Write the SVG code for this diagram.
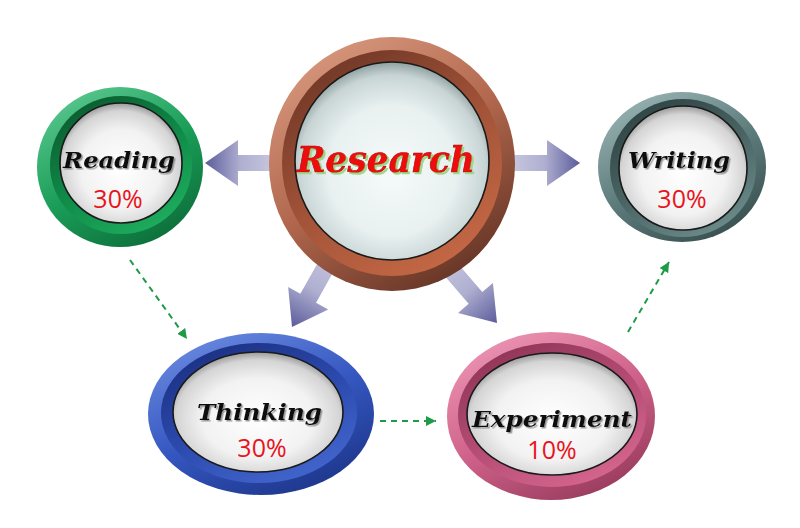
<svg xmlns="http://www.w3.org/2000/svg" width="800" height="528" viewBox="0 0 800 528">
<defs>
<style>
.lbl{font-family:"DejaVu Serif","Liberation Serif",serif;font-weight:bold;font-style:italic;fill:#111;text-anchor:middle;filter:url(#shGray);}
.pct{font-family:"Open Sans","Liberation Sans",sans-serif;font-size:25px;fill:#e8141c;text-anchor:middle;}
.disk{stroke:#1a1a1a;stroke-width:1.6;}
.dash{fill:none;stroke:#1e9a48;stroke-width:2;stroke-dasharray:6 5;}
.bigarrow{fill:url(#gArrow);}
</style>
<filter id="shGray" x="-10%" y="-30%" width="120%" height="160%">
<feDropShadow dx="1.5" dy="1.5" stdDeviation="0.6" flood-color="#808080" flood-opacity="0.8"/>
</filter>
<filter id="shGreen" x="-10%" y="-30%" width="120%" height="160%">
<feDropShadow dx="2" dy="2" stdDeviation="0.4" flood-color="#9cd888" flood-opacity="1"/>
</filter>
<linearGradient id="gArrow" x1="0" y1="0" x2="1" y2="0">
<stop offset="0" stop-color="#c8c8e0"/><stop offset="0.5" stop-color="#aeaed0"/><stop offset="1" stop-color="#5c5c9c"/>
</linearGradient>
<radialGradient id="gDisk" cx="0.5" cy="0.55" r="0.55">
<stop offset="0" stop-color="#ffffff"/><stop offset="0.6" stop-color="#f2f2f2"/><stop offset="0.88" stop-color="#d4d4d4"/><stop offset="1" stop-color="#9a9a9a"/>
</radialGradient>
<radialGradient id="gDiskR" cx="0.5" cy="0.55" r="0.55">
<stop offset="0" stop-color="#f6fafa"/><stop offset="0.6" stop-color="#e8f0f0"/><stop offset="0.88" stop-color="#c8d4d4"/><stop offset="1" stop-color="#8fa0a0"/>
</radialGradient>
<linearGradient id="gGreenO" x1="0.2" y1="0" x2="0.8" y2="1"><stop offset="0" stop-color="#5cc890"/><stop offset="0.5" stop-color="#1a9e58"/><stop offset="1" stop-color="#0c6a38"/></linearGradient>
<linearGradient id="gGreenI" x1="0.2" y1="0" x2="0.8" y2="1"><stop offset="0" stop-color="#0a5a2e"/><stop offset="0.5" stop-color="#108a48"/><stop offset="1" stop-color="#1fb060"/></linearGradient>
<linearGradient id="gBrownO" x1="0.2" y1="0" x2="0.8" y2="1"><stop offset="0" stop-color="#d99a80"/><stop offset="0.5" stop-color="#b0664c"/><stop offset="1" stop-color="#5e3022"/></linearGradient>
<linearGradient id="gBrownI" x1="0.2" y1="0" x2="0.8" y2="1"><stop offset="0" stop-color="#6e3626"/><stop offset="0.5" stop-color="#a25338"/><stop offset="1" stop-color="#c86a46"/></linearGradient>
<linearGradient id="gGrayO" x1="0.2" y1="0" x2="0.8" y2="1"><stop offset="0" stop-color="#9ab4b4"/><stop offset="0.5" stop-color="#5e7c7c"/><stop offset="1" stop-color="#364c4c"/></linearGradient>
<linearGradient id="gGrayI" x1="0.2" y1="0" x2="0.8" y2="1"><stop offset="0" stop-color="#2e4242"/><stop offset="0.5" stop-color="#4a6464"/><stop offset="1" stop-color="#6e8e8e"/></linearGradient>
<linearGradient id="gBlueO" x1="0.2" y1="0" x2="0.8" y2="1"><stop offset="0" stop-color="#6a8ae0"/><stop offset="0.5" stop-color="#3557c0"/><stop offset="1" stop-color="#1c3488"/></linearGradient>
<linearGradient id="gBlueI" x1="0.2" y1="0" x2="0.8" y2="1"><stop offset="0" stop-color="#1a3080"/><stop offset="0.5" stop-color="#2c4aae"/><stop offset="1" stop-color="#4468d0"/></linearGradient>
<linearGradient id="gPinkO" x1="0.2" y1="0" x2="0.8" y2="1"><stop offset="0" stop-color="#ec96b4"/><stop offset="0.5" stop-color="#d0628a"/><stop offset="1" stop-color="#94385a"/></linearGradient>
<linearGradient id="gPinkI" x1="0.2" y1="0" x2="0.8" y2="1"><stop offset="0" stop-color="#8e3456"/><stop offset="0.5" stop-color="#b44c74"/><stop offset="1" stop-color="#d86890"/></linearGradient>
<marker id="mGreen" markerUnits="userSpaceOnUse" markerWidth="11" markerHeight="10" refX="10" refY="5" orient="auto">
<path d="M0,0 L10,5 L0,10 Z" fill="#1e9a48"/>
</marker>
</defs>

<rect width="800" height="528" fill="#ffffff"/>

<g id="connectors">
<path class="bigarrow" transform="translate(205,163) rotate(180)" d="M0,0 L-33,-23 L-33,-8 L-70,-8 L-70,8 L-33,8 L-33,23 Z"/>
<path class="bigarrow" transform="translate(580,163)" d="M0,0 L-33,-23 L-33,-8 L-70,-8 L-70,8 L-33,8 L-33,23 Z"/>
<path class="bigarrow" transform="translate(292,327) rotate(119.4)" d="M0,0 L-33,-23 L-33,-9 L-85,-9 L-85,9 L-33,9 L-33,23 Z"/>
<path class="bigarrow" transform="translate(497,323) rotate(49.3)" d="M0,0 L-33,-23 L-33,-9 L-85,-9 L-85,9 L-33,9 L-33,23 Z"/>
<path class="dash" d="M130,260 L187,339" marker-end="url(#mGreen)"/>
<path class="dash" d="M380,421 L436,421" marker-end="url(#mGreen)"/>
<path class="dash" d="M628,332 L669,262" marker-end="url(#mGreen)"/>
</g>

<g id="research">
<ellipse cx="392" cy="164" rx="123" ry="127" fill="url(#gBrownO)"/>
<ellipse cx="392" cy="163" rx="110" ry="113" fill="url(#gBrownI)"/>
<ellipse class="disk" cx="392" cy="161" rx="97" ry="99" fill="url(#gDiskR)"/>
<text x="386" y="172" text-anchor="middle" font-size="35" textLength="178" lengthAdjust="spacingAndGlyphs" filter="url(#shGreen)" style="font-family:'DejaVu Serif','Liberation Serif',serif;font-weight:bold;font-style:italic;fill:#ee1010;stroke:#b00000;stroke-width:0.6;">Research</text>
</g>

<g id="reading">
<ellipse cx="120" cy="167" rx="83" ry="80" fill="url(#gGreenO)"/>
<ellipse cx="121" cy="165" rx="71" ry="69" fill="url(#gGreenI)"/>
<ellipse class="disk" cx="121" cy="163" rx="61" ry="60" fill="url(#gDisk)"/>
<text class="lbl" x="119" y="168" font-size="22" textLength="112" lengthAdjust="spacingAndGlyphs">Reading</text>
<text class="pct" x="118" y="208">30%</text>
</g>

<g id="writing">
<ellipse cx="682" cy="167" rx="84" ry="75" fill="url(#gGrayO)"/>
<ellipse cx="683" cy="168" rx="73" ry="69" fill="url(#gGrayI)"/>
<ellipse class="disk" cx="683" cy="168" rx="64" ry="62" fill="url(#gDisk)"/>
<text class="lbl" x="679" y="168" font-size="22" textLength="102" lengthAdjust="spacingAndGlyphs">Writing</text>
<text class="pct" x="682" y="208">30%</text>
</g>

<g id="thinking">
<ellipse cx="261" cy="414" rx="113" ry="81" fill="url(#gBlueO)"/>
<ellipse cx="259" cy="413" rx="98" ry="70" fill="url(#gBlueI)"/>
<ellipse class="disk" cx="258" cy="412" rx="85" ry="60" fill="url(#gDisk)"/>
<text class="lbl" x="259.5" y="420" font-size="23" textLength="125" lengthAdjust="spacingAndGlyphs">Thinking</text>
<text class="pct" x="262" y="457">30%</text>
</g>

<g id="experiment">
<ellipse cx="551" cy="416" rx="104" ry="84" fill="url(#gPinkO)"/>
<ellipse cx="552" cy="415" rx="94" ry="72" fill="url(#gPinkI)"/>
<ellipse class="disk" cx="552" cy="414" rx="85" ry="61" fill="url(#gDisk)"/>
<text class="lbl" x="552" y="427" font-size="22" textLength="160" lengthAdjust="spacingAndGlyphs">Experiment</text>
<text class="pct" x="552" y="459">10%</text>
</g>
</svg>
